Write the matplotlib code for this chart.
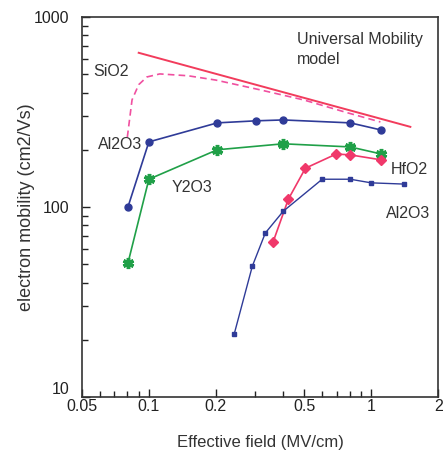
import matplotlib.pyplot as plt
from matplotlib.ticker import FixedLocator, NullFormatter

plt.rcParams['font.family'] = ['Liberation Sans', 'DejaVu Sans']

# universal mobility model (solid) and SiO2 (dashed)
umm_x = [0.09, 1.5]
umm_y = [647, 264]
sio2_x = [0.080, 0.084, 0.090, 0.098, 0.112, 0.15, 0.2, 0.317, 0.5, 0.782, 1.10]
sio2_y = [233, 366, 440, 483, 501, 490, 465, 413, 365, 313, 280]

# Al2O3 (circles)
al_x = [0.0805, 0.100, 0.203, 0.304, 0.402, 0.805, 1.11]
al_y = [100, 220, 277, 284, 287, 277, 254]

# Y2O3 (stars)
y2_x = [0.0805, 0.100, 0.203, 0.402, 0.805, 1.11]
y2_y = [50.7, 140, 200, 215, 207, 190]

# HfO2 (diamonds)
hf_x = [0.362, 0.424, 0.506, 0.696, 0.805, 1.11]
hf_y = [65.5, 110, 160, 190, 188, 177]

# Al2O3 second set (small squares)
al2_x = [0.242, 0.292, 0.334, 0.402, 0.602, 0.805, 1.0, 1.41]
al2_y = [21.5, 48.9, 73, 95, 140, 140, 134, 132]

blue = '#2f3b98'
green = '#20a048'
pink = '#f0386a'
fs = 11.5

fig = plt.figure(figsize=(4.43, 4.55), dpi=100)
ax = fig.add_axes([0.185, 0.127, 0.804, 0.836])

ax.plot(umm_x, umm_y, color='#f23c5c', lw=1.4)
ax.plot(sio2_x, sio2_y, color='#f050a0', lw=1.2, ls=(0, (4, 2.5)))
ax.plot(al_x, al_y, color=blue, lw=1.2, marker='o', ms=5)
ax.plot(y2_x, y2_y, color=green, lw=1.2, marker=(6, 2, 0), ms=8, mew=2.5)
ax.plot(hf_x, hf_y, color=pink, lw=1.2, marker='D', ms=5.5)
ax.plot(al2_x, al2_y, color=blue, lw=1.0, marker='s', ms=3)

ax.set_xscale('log')
ax.set_yscale('log')
ax.set_xlim(0.05, 2)
ax.set_ylim(10, 1000)

ax.xaxis.set_major_locator(FixedLocator([0.05, 0.1, 0.2, 0.5, 1, 2]))
ax.xaxis.set_minor_locator(FixedLocator([0.06, 0.07, 0.08, 0.09, 0.3, 0.4, 0.6, 0.7, 0.8, 0.9]))
ax.set_xticklabels(['0.05', '0.1', '0.2', '0.5', '1', '2'])
ax.xaxis.set_minor_formatter(NullFormatter())
ax.yaxis.set_major_locator(FixedLocator([10, 100, 1000]))
ax.set_yticklabels(['10', '100', '1000'])
ax.yaxis.set_minor_locator(FixedLocator([20, 30, 40, 50, 60, 70, 80, 90,
                                         200, 300, 400, 500, 600, 700, 800, 900]))
ax.yaxis.set_minor_formatter(NullFormatter())

ax.tick_params(which='both', direction='in', top=False, right=False,
               labelsize=fs, colors='#222222')
ax.tick_params(axis='x', pad=1)
ax.tick_params(axis='y', pad=9)
ax.tick_params(which='major', length=6, width=1)
ax.tick_params(which='minor', length=4, width=1)
ax.get_yticklabels()[0].set_va('bottom')
for s in ax.spines.values():
    s.set_linewidth(1.2)
    s.set_color('#333333')

ax.set_xlabel('Effective field (MV/cm)', fontsize=12, color='#333333', va='top')
ax.xaxis.set_label_coords(0.5, -0.1)
ax.set_ylabel('electron mobility (cm2/Vs)', fontsize=13, color='#333333', va='center')
ax.yaxis.set_label_coords(-0.155, 0.5)

tk = dict(fontsize=fs, color='#333333')
ax.text(0.465, 830, 'Universal Mobility\nmodel', va='top', ha='left',
        linespacing=1.4, **tk)
ax.text(0.0561, 514, 'SiO2', ha='left', va='center', **tk)
ax.text(0.059, 212, 'Al2O3', ha='left', va='center', **tk)
ax.text(0.127, 127, 'Y2O3', ha='left', va='center', **tk)
ax.text(1.22, 157, 'HfO2', ha='left', va='center', **tk)
ax.text(1.16, 93, 'Al2O3', ha='left', va='center', **tk)

fig.savefig('out.png', dpi=100)
